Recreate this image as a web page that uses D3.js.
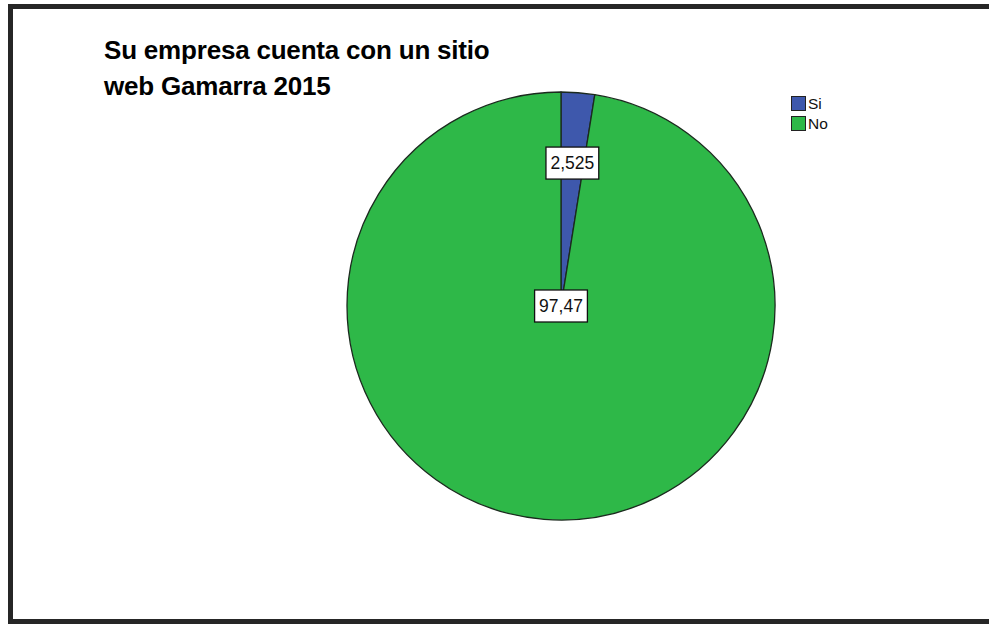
<!DOCTYPE html>
<html>
<head>
<meta charset="utf-8">
<script src="https://cdn.jsdelivr.net/npm/d3@7"></script>
<style>
  html, body { margin: 0; padding: 0; background: #ffffff; }
  svg { display: block; }
</style>
</head>
<body>
<svg id="chart" width="989" height="624"></svg>
<script>
// Survey answers: does the company have a website (Gamarra 2015)
const categories = ["Si", "No"];
const percentages = [2.525, 97.47];
const valueLabels = ["2,525", "97,47"];
const titleLines = ["Su empresa cuenta con un sitio", "web Gamarra 2015"];
const colors = ["#3e58ac", "#2eb848"];

const svg = d3.select("#chart");

// outer frame
svg.append("rect")
  .attr("x", 10.5).attr("y", 6.5)
  .attr("width", 990).attr("height", 615)
  .attr("fill", "#ffffff")
  .attr("stroke", "#262626")
  .attr("stroke-width", 5);

// title
const title = svg.append("text")
  .attr("font-family", "Liberation Sans, Arial, sans-serif")
  .attr("font-weight", "bold")
  .attr("font-size", 26)
  .attr("letter-spacing", -0.2)
  .attr("fill", "#000");
titleLines.forEach((t, i) => {
  title.append("tspan").attr("x", 104).attr("y", 59 + i * 36).text(t);
});

// pie
const cx = 561, cy = 306, R = 214;
const g = svg.append("g").attr("transform", `translate(${cx},${cy})`);

const data = categories.map((c, i) => ({ cat: c, value: percentages[i], label: valueLabels[i], color: colors[i] }));

const pie = d3.pie().value(d => d.value).sort(null);
const arc = d3.arc().innerRadius(0).outerRadius(R);
const arcs = pie(data);

g.selectAll("path.slice")
  .data(arcs)
  .join("path")
  .attr("class", "slice")
  .attr("d", arc)
  .attr("fill", d => d.data.color)
  .attr("stroke", "#1b2a1e")
  .attr("stroke-width", 1.3)
  .attr("stroke-linejoin", "round");

// value labels: the small slice labelled inside the wedge, the large one at the centre
const labelRadius = [0.67 * R, 0];
const labelArc = i => d3.arc().innerRadius(labelRadius[i]).outerRadius(labelRadius[i]);

const lbl = g.selectAll("g.lbl")
  .data(arcs)
  .join("g")
  .attr("class", "lbl")
  .attr("transform", (d, i) => {
    const [x, y] = labelArc(i).centroid(d);
    return `translate(${x},${y})`;
  });

lbl.each(function (d) {
  const s = d3.select(this);
  const t = s.append("text")
    .attr("text-anchor", "middle")
    .attr("dominant-baseline", "central")
    .attr("font-family", "Liberation Sans, Arial, sans-serif")
    .attr("font-size", 17.5)
    .attr("fill", "#111")
    .text(d.data.label);
  const bb = t.node().getBBox();
  s.insert("rect", "text")
    .attr("x", bb.x - 4.5).attr("y", -16)
    .attr("width", bb.width + 9).attr("height", 32)
    .attr("fill", "#ffffff")
    .attr("stroke", "#111")
    .attr("stroke-width", 1.3);
});

// legend
const legend = svg.append("g").attr("transform", "translate(791,96)");
const items = legend.selectAll("g")
  .data(data)
  .join("g")
  .attr("transform", (d, i) => `translate(0,${i * 20})`);
items.append("rect")
  .attr("x", 0.5).attr("y", 0.5)
  .attr("width", 14).attr("height", 14)
  .attr("fill", d => d.color)
  .attr("stroke", "#222")
  .attr("stroke-width", 1);
items.append("text")
  .attr("x", 17).attr("y", 13)
  .attr("font-family", "Liberation Sans, Arial, sans-serif")
  .attr("font-size", 15.5)
  .attr("fill", "#111")
  .text(d => d.cat);
</script>
</body>
</html>
